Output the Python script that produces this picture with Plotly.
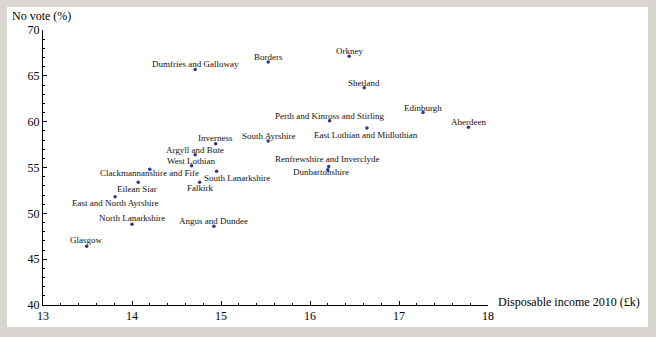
import plotly.graph_objects as go

regions = ["Dumfries and Galloway", "Borders", "Orkney", "Shetland", "Edinburgh",
           "Aberdeen", "Perth and Kinross and Stirling", "East Lothian and Midlothian",
           "South Ayrshire", "Inverness", "Argyll and Bute", "West Lothian",
           "Clackmannanshire and Fife", "South Lanarkshire", "Falkirk", "Eilean Siar",
           "East and North Ayrshire", "North Lanarkshire", "Angus and Dundee", "Glasgow",
           "Renfrewshire and Inverclyde", "Dunbartonshire"]
income = [14.71, 15.53, 16.44, 16.61, 17.27, 17.78, 16.22, 16.64, 15.53, 14.94, 14.71,
          14.67, 14.20, 14.95, 14.76, 14.07, 13.81, 14.00, 14.92, 13.49, 16.21, 16.20]
no_vote = [65.7, 66.5, 67.15, 63.7, 61.0, 59.4, 60.1, 59.3, 57.9, 57.6, 56.4, 55.2,
           54.8, 54.6, 53.4, 53.4, 51.8, 48.8, 48.6, 46.4, 55.1, 54.75]

x_ticks = [13, 14, 15, 16, 17, 18]
y_ticks = [40, 45, 50, 55, 60, 65, 70]

# label pixel offsets (style only)
label_shift = {
    "East Lothian and Midlothian": (-1, -7),
    "Clackmannanshire and Fife": (0, -4),
    "South Lanarkshire": (20, -7),
    "Falkirk": (0, -6),
    "Eilean Siar": (-1, -7),
    "East and North Ayrshire": (0, -6),
    "Inverness": (0, 6),
    "North Lanarkshire": (0, 6),
    "Glasgow": (-1, 6),
    "Renfrewshire and Inverclyde": (-2, 8),
    "Dunbartonshire": (-7, -2),
}

SERIF = "Liberation Serif"

fig = go.Figure()
fig.add_trace(go.Scatter(
    x=income, y=no_vote, mode="markers",
    marker=dict(size=3.5, color="#34348f"),
    hoverinfo="skip", showlegend=False))

annotations = []
for name, xv, yv in zip(regions, income, no_vote):
    dx, dy = label_shift.get(name, (0, 5))
    annotations.append(dict(
        x=xv, y=yv, xref="x", yref="y", text=name, showarrow=False,
        xshift=dx, yshift=dy, xanchor="center", yanchor="middle",
        font=dict(family=SERIF, size=9, color="#111111")))

annotations.append(dict(
    x=-0.074, y=1.0, xref="paper", yref="paper", yshift=14,
    text="No vote (%)", showarrow=False, xanchor="left", yanchor="middle",
    font=dict(family=SERIF, size=12, color="black")))
annotations.append(dict(
    x=1.0, y=0, xref="paper", yref="paper", xshift=8, yshift=3,
    text="Disposable income 2010 (£k)", showarrow=False, xanchor="left",
    yanchor="middle", font=dict(family=SERIF, size=12, color="black")))

W, H = 656, 337
L, R, T, B = 43, 168, 30, 32
pw, ph = W - L - R, H - T - B

def px2paper_x(p):
    return (p - L) / pw

def px2paper_y(p):
    return (H - B - p) / ph

fig.update_layout(
    width=W, height=H,
    margin=dict(l=L, r=R, t=T, b=B, pad=0),
    paper_bgcolor="#d9d5d0",
    plot_bgcolor="white",
    annotations=annotations,
    shapes=[dict(type="rect", xref="paper", yref="paper",
                 x0=px2paper_x(7), x1=px2paper_x(648),
                 y0=px2paper_y(327), y1=px2paper_y(7),
                 fillcolor="white", line=dict(width=0), layer="below")],
    xaxis=dict(range=[13, 18], tickvals=x_ticks, ticktext=[str(v) for v in x_ticks],
               showgrid=False, zeroline=False, showline=True, linecolor="black",
               linewidth=1, ticks="inside", ticklen=4, tickcolor="black",
               minor=dict(dtick=0.2, ticks="inside", ticklen=2, tickcolor="black",
                          showgrid=False),
               tickfont=dict(family=SERIF, size=12, color="black"), fixedrange=True),
    yaxis=dict(range=[40, 70], tickvals=y_ticks, ticktext=[str(v) for v in y_ticks],
               showgrid=False, zeroline=False, showline=True, linecolor="black",
               linewidth=1, ticks="inside", ticklen=4, tickcolor="black",
               minor=dict(dtick=1, ticks="inside", ticklen=2, tickcolor="black",
                          showgrid=False),
               tickfont=dict(family=SERIF, size=12, color="black"), fixedrange=True),
)

fig.write_html("out.html", config={"displayModeBar": False})
